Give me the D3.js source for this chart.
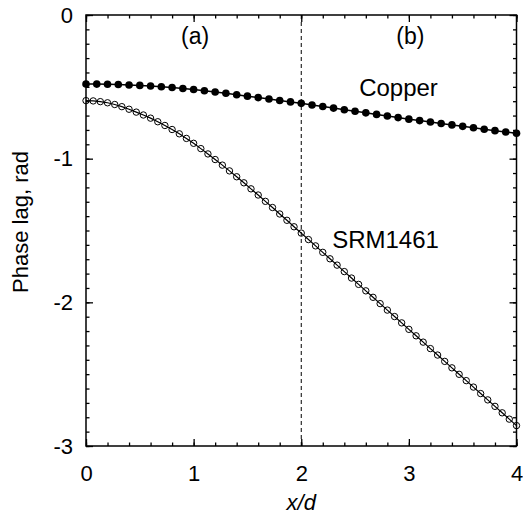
<!DOCTYPE html>
<html>
<head>
<meta charset="utf-8">
<script src="https://cdn.jsdelivr.net/npm/d3@7"></script>
<style>
  body { margin: 0; background: #fff; }
  svg text { font-family: "Liberation Sans", Arial, sans-serif; fill: #000; }
</style>
</head>
<body>
<svg id="chart"></svg>
<script>
// Copper, sampled every 0.1 in x/d
const copperX = [0, 0.1, 0.2, 0.3, 0.4, 0.5, 0.6, 0.7, 0.8, 0.9,
  1.0, 1.1, 1.2, 1.3, 1.4, 1.5, 1.6, 1.7, 1.8, 1.9,
  2.0, 2.1, 2.2, 2.3, 2.4, 2.5, 2.6, 2.7, 2.8, 2.9,
  3.0, 3.1, 3.2, 3.3, 3.4, 3.5, 3.6, 3.7, 3.8, 3.9, 4.0];
const copperY = [-0.480, -0.481, -0.482, -0.484, -0.487, -0.490, -0.494, -0.499, -0.505, -0.512,
  -0.519, -0.527, -0.536, -0.545, -0.555, -0.565, -0.575, -0.585, -0.595, -0.605,
  -0.615, -0.626, -0.637, -0.648, -0.659, -0.670, -0.681, -0.692, -0.703, -0.714,
  -0.725, -0.735, -0.745, -0.755, -0.765, -0.775, -0.785, -0.795, -0.805, -0.814, -0.823];

// SRM1461, sampled every 1/15 in x/d
const srmX = [0, 0.067, 0.133, 0.2, 0.267, 0.333, 0.4, 0.467, 0.533, 0.6,
  0.667, 0.733, 0.8, 0.867, 0.933, 1.0, 1.067, 1.133, 1.2, 1.267,
  1.333, 1.4, 1.467, 1.533, 1.6, 1.667, 1.733, 1.8, 1.867, 1.933,
  2.0, 2.067, 2.133, 2.2, 2.267, 2.333, 2.4, 2.467, 2.533, 2.6,
  2.667, 2.733, 2.8, 2.867, 2.933, 3.0, 3.067, 3.133, 3.2, 3.267,
  3.333, 3.4, 3.467, 3.533, 3.6, 3.667, 3.733, 3.8, 3.867, 3.933, 4.0];
const srmY = [-0.596, -0.598, -0.603, -0.611, -0.623, -0.638, -0.656, -0.676, -0.696, -0.718,
  -0.743, -0.769, -0.797, -0.827, -0.859, -0.893, -0.930, -0.967, -1.006, -1.045,
  -1.085, -1.126, -1.168, -1.210, -1.253, -1.297, -1.340, -1.385, -1.429, -1.474,
  -1.518, -1.563, -1.607, -1.652, -1.697, -1.741, -1.786, -1.831, -1.875, -1.920,
  -1.965, -2.009, -2.054, -2.099, -2.143, -2.188, -2.233, -2.277, -2.322, -2.367,
  -2.411, -2.456, -2.501, -2.545, -2.590, -2.635, -2.679, -2.724, -2.769, -2.813, -2.858];

const xTicks = [0, 1, 2, 3, 4];
const yTicks = [0, -1, -2, -3];
const regionLabels = [{ text: "(a)", x: 1 }, { text: "(b)", x: 3 }];
const dividerX = 2;

const width = 523, height = 515;
const margin = { top: 15, right: 6.5, bottom: 69, left: 86 };

const svg = d3.select("#chart")
    .attr("width", width)
    .attr("height", height);

const x = d3.scaleLinear().domain([0, 4]).range([margin.left, width - margin.right]);
const y = d3.scaleLinear().domain([0, -3]).range([margin.top, height - margin.bottom]);

const copper = copperX.map((v, i) => ({ x: v, y: copperY[i] }));
const srm = srmX.map((v, i) => ({ x: v, y: srmY[i] }));

// Axes: ticks point inward, labels on bottom and left only
function drawAxis(axis, transform, showLabels) {
    const g = svg.append("g").attr("transform", transform).call(axis);
    g.select(".domain").remove();
    g.selectAll("line").attr("stroke", "#000").attr("stroke-width", 1.3);
    if (showLabels) g.selectAll("text").attr("font-size", "22px").attr("font-family", "Liberation Sans, Arial, sans-serif");
    else g.selectAll("text").remove();
    return g;
}

const minorX = d3.range(0, 4.001, 0.2);
const minorY = d3.range(0, -3.001, -0.1);

drawAxis(d3.axisBottom(x).tickValues(xTicks).tickSize(-7).tickPadding(19).tickFormat(d3.format("d")),
    `translate(0,${y(-3)})`, true);
drawAxis(d3.axisBottom(x).tickValues(minorX).tickSize(-3.5).tickFormat(""), `translate(0,${y(-3)})`, false);
drawAxis(d3.axisTop(x).tickValues(xTicks).tickSize(-7).tickFormat(""), `translate(0,${y(0)})`, false);
drawAxis(d3.axisTop(x).tickValues(minorX).tickSize(-3.5).tickFormat(""), `translate(0,${y(0)})`, false);

drawAxis(d3.axisLeft(y).tickValues(yTicks).tickSize(-7).tickPadding(13).tickFormat(d => d === 0 ? "0" : "-" + Math.abs(d)),
    `translate(${x(0)},0)`, true);
drawAxis(d3.axisLeft(y).tickValues(minorY).tickSize(-3.5).tickFormat(""), `translate(${x(0)},0)`, false);
drawAxis(d3.axisRight(y).tickValues(yTicks).tickSize(-7).tickFormat(""), `translate(${x(4)},0)`, false);
drawAxis(d3.axisRight(y).tickValues(minorY).tickSize(-3.5).tickFormat(""), `translate(${x(4)},0)`, false);

// frame
svg.append("rect")
    .attr("x", x(0)).attr("y", y(0))
    .attr("width", x(4) - x(0)).attr("height", y(-3) - y(0))
    .attr("fill", "none").attr("stroke", "#000").attr("stroke-width", 1.5);

// dashed divider between regions (a) and (b)
svg.append("line")
    .attr("x1", x(dividerX)).attr("x2", x(dividerX))
    .attr("y1", y(0)).attr("y2", y(-3))
    .attr("stroke", "#000").attr("stroke-width", 1)
    .attr("stroke-dasharray", "4,3");

const line = d3.line().x(d => x(d.x)).y(d => y(d.y));

// SRM1461: open circles
svg.append("path").datum(srm).attr("d", line)
    .attr("fill", "none").attr("stroke", "#000").attr("stroke-width", 1.2);
svg.append("g").selectAll("circle").data(srm).enter().append("circle")
    .attr("cx", d => x(d.x)).attr("cy", d => y(d.y)).attr("r", 3.2)
    .attr("fill", "none").attr("stroke", "#000").attr("stroke-width", 1);

// Copper: filled circles
svg.append("path").datum(copper).attr("d", line)
    .attr("fill", "none").attr("stroke", "#000").attr("stroke-width", 1.5);
svg.append("g").selectAll("circle").data(copper).enter().append("circle")
    .attr("cx", d => x(d.x)).attr("cy", d => y(d.y)).attr("r", 3.8)
    .attr("fill", "#000");

// labels
svg.selectAll(".region").data(regionLabels).enter().append("text")
    .attr("class", "region")
    .attr("x", d => x(d.x) + 1.5).attr("y", 44)
    .attr("text-anchor", "middle").attr("font-size", "23px")
    .text(d => d.text);

svg.append("text").attr("x", 398.5).attr("y", 96)
    .attr("text-anchor", "middle").attr("font-size", "24px").text("Copper");
svg.append("text").attr("x", 385.5).attr("y", 248)
    .attr("text-anchor", "middle").attr("font-size", "24px").text("SRM1461");

svg.append("text")
    .attr("transform", "translate(28,222) rotate(-90)")
    .attr("text-anchor", "middle").attr("font-size", "22px")
    .text("Phase lag, rad");

svg.append("text").attr("x", x(2)).attr("y", 510)
    .attr("text-anchor", "middle").attr("font-size", "22px")
    .attr("font-style", "italic").text("x/d");
</script>
</body>
</html>
